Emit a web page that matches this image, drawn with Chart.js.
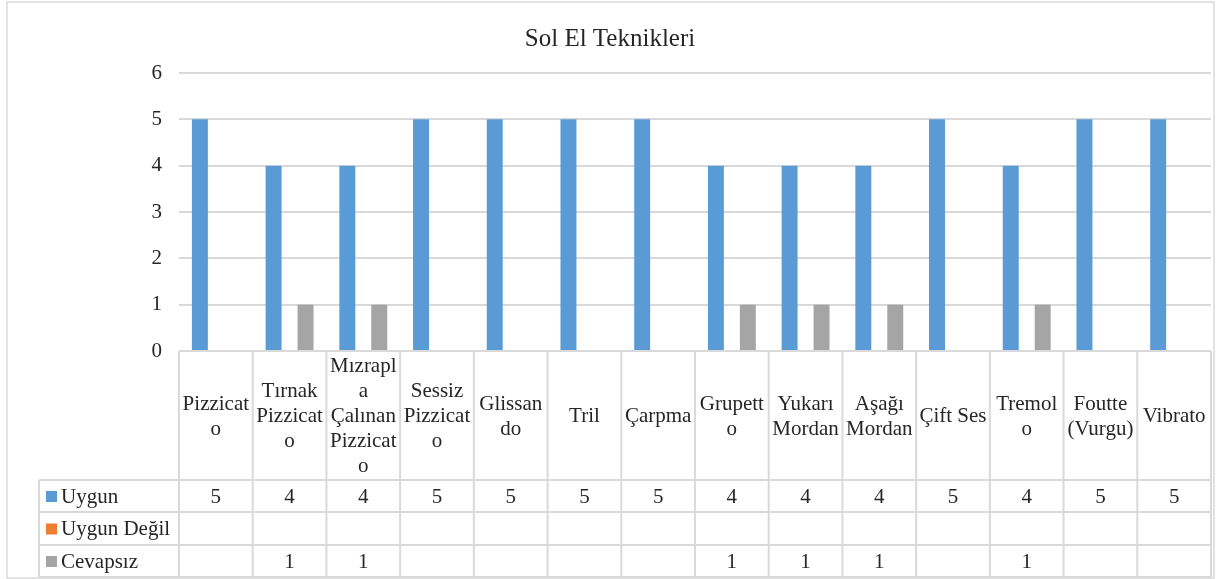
<!DOCTYPE html>
<html>
<head>
<meta charset="utf-8">
<script src="https://cdn.jsdelivr.net/npm/chart.js@4/dist/chart.umd.min.js"></script>
<style>
html,body{margin:0;padding:0;background:#fff;}
canvas{display:block;}
</style>
</head>
<body>
<canvas id="c" width="1217" height="579"></canvas>
<script>
const title = "Sol El Teknikleri";
const categories = [
  ["Pizzicat","o"],
  ["Tırnak","Pizzicat","o"],
  ["Mızrapl","a","Çalınan","Pizzicat","o"],
  ["Sessiz","Pizzicat","o"],
  ["Glissan","do"],
  ["Tril"],
  ["Çarpma"],
  ["Grupett","o"],
  ["Yukarı","Mordan"],
  ["Aşağı","Mordan"],
  ["Çift Ses"],
  ["Tremol","o"],
  ["Foutte","(Vurgu)"],
  ["Vibrato"]
];
const seriesNames = ["Uygun","Uygun Değil","Cevapsız"];
const uygun     = [5,4,4,5,5,5,5,4,4,4,5,4,5,5];
const uygunDegil= [null,null,null,null,null,null,null,null,null,null,null,null,null,null];
const cevapsiz  = [null,1,1,null,null,null,null,1,1,1,null,1,null,null];
const yTicks = [0,1,2,3,4,5,6];
const colors = ["#5B9BD5","#ED7D31","#A5A5A5"];

const FONT = "'Liberation Serif','Times New Roman',serif";
const TXT = "#262626";
const LINE = "#d9d9d9";

const tablePlugin = {
  id: 'tablePlugin',
  afterDraw(chart) {
    const ctx = chart.ctx;
    const ca = chart.chartArea;
    const n = categories.length;
    const colW = (ca.right - ca.left) / n;
    const headerTop = ca.bottom;
    const headerBottom = 480;
    const rowH = [480, 512, 545, 577];
    const legendLeft = 39;
    ctx.save();
    // outer border
    ctx.strokeStyle = LINE;
    ctx.lineWidth = 1.5;
    ctx.strokeRect(7, 2, 1207, 576);
    // title
    ctx.fillStyle = TXT;
    ctx.font = "25px " + FONT;
    ctx.textAlign = "center";
    ctx.textBaseline = "middle";
    ctx.fillText(title, 610, 39);
    // table lines
    ctx.strokeStyle = LINE;
    ctx.lineWidth = 2;
    ctx.beginPath();
    ctx.moveTo(ca.left, headerTop); ctx.lineTo(ca.right, headerTop);
    for (const y of rowH) { ctx.moveTo(legendLeft, y); ctx.lineTo(ca.right, y); }
    for (let i = 0; i <= n; i++) {
      const x = ca.left + i * colW;
      ctx.moveTo(x, headerTop); ctx.lineTo(x, rowH[3]);
    }
    ctx.moveTo(legendLeft, rowH[0]); ctx.lineTo(legendLeft, rowH[3]);
    ctx.stroke();
    // header labels
    ctx.fillStyle = TXT;
    ctx.font = "21px " + FONT;
    ctx.textAlign = "center";
    const xs = chart.scales.x;
    const hc = (headerTop + headerBottom) / 2 + 1;
    categories.forEach((lines, i) => {
      const cx = xs.getPixelForValue(i);
      const start = hc - (lines.length - 1) * 25 / 2;
      lines.forEach((t, k) => ctx.fillText(t, cx, start + k * 25));
    });
    // rows
    const series = [uygun, uygunDegil, cevapsiz];
    series.forEach((vals, r) => {
      const cy = (rowH[r] + rowH[r + 1]) / 2 + 1;
      ctx.fillStyle = colors[r];
      ctx.fillRect(46, cy - 6, 11, 11);
      ctx.fillStyle = TXT;
      ctx.textAlign = "left";
      ctx.fillText(seriesNames[r], 61, cy);
      ctx.textAlign = "center";
      vals.forEach((v, i) => {
        if (v !== null && v !== undefined) ctx.fillText(String(v), xs.getPixelForValue(i), cy);
      });
    });
    ctx.restore();
  }
};

new Chart(document.getElementById('c'), {
  type: 'bar',
  data: {
    labels: categories.map(c => c.join(' ')),
    datasets: [
      { label: seriesNames[0], data: uygun, backgroundColor: colors[0] },
      { label: seriesNames[1], data: uygunDegil, backgroundColor: colors[1] },
      { label: seriesNames[2], data: cevapsiz, backgroundColor: colors[2] }
    ]
  },
  options: {
    responsive: false,
    animation: false,
    layout: { padding: { top: 73, bottom: 228, left: 0, right: 6 } },
    datasets: { bar: { categoryPercentage: 0.65, barPercentage: 1.0 } },
    plugins: { legend: { display: false }, title: { display: false }, tooltip: { enabled: false } },
    scales: {
      x: { display: false },
      y: {
        min: 0, max: 6,
        afterFit(s) { s.width = 179; },
        afterBuildTicks(s) { s.ticks = yTicks.map(v => ({ value: v })); },
        ticks: { stepSize: 1, padding: 17, color: TXT, font: { family: FONT, size: 21 } },
        grid: { color: LINE, lineWidth: 2, drawTicks: false },
        border: { display: false }
      }
    }
  },
  plugins: [tablePlugin]
});
</script>
</body>
</html>
